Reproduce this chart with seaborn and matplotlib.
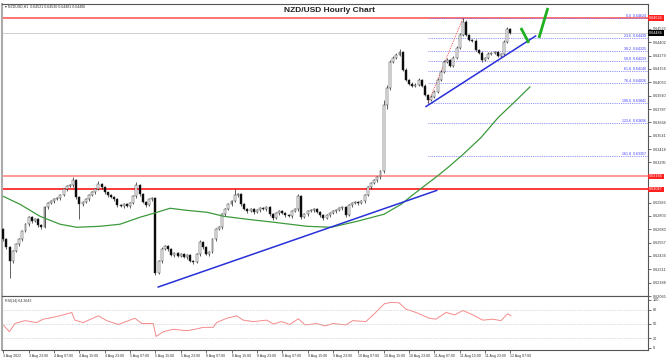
import numpy as np
import matplotlib
matplotlib.use("Agg")
import matplotlib.pyplot as plt
import seaborn as sns

# ---- data (hourly bars, bar 0 = 3 Aug 15:00) ----
first_open = 0.62680
closes = [
    0.62588, 0.62515, 0.62386, 0.62478, 0.62542, 0.62588, 0.62661, 0.62726, 0.62790, 0.62753,
    0.62772, 0.62717, 0.62698, 0.62882, 0.62918, 0.62937, 0.62955, 0.62964, 0.62992, 0.63047,
    0.63075, 0.63084, 0.63130, 0.62974, 0.62909, 0.62928, 0.62955, 0.62992, 0.63019, 0.63047,
    0.63093, 0.63065, 0.63019, 0.62992, 0.62974, 0.62955, 0.62900, 0.62891, 0.62909, 0.62891,
    0.62918, 0.62983, 0.63084, 0.63001, 0.62928, 0.62900, 0.62955, 0.62964, 0.62276, 0.62386,
    0.62496, 0.62524, 0.62496, 0.62441, 0.62460, 0.62432, 0.62450, 0.62423, 0.62441, 0.62386,
    0.62377, 0.62450, 0.62560, 0.62515, 0.62450, 0.62469, 0.62588, 0.62680, 0.62698, 0.62818,
    0.62863, 0.62909, 0.62937, 0.62992, 0.63001, 0.62909, 0.62863, 0.62845, 0.62863, 0.62836,
    0.62854, 0.62873, 0.62863, 0.62882, 0.62818, 0.62781, 0.62827, 0.62845, 0.62827, 0.62808,
    0.62799, 0.62845, 0.62863, 0.62983, 0.62790, 0.62818, 0.62845, 0.62854, 0.62863, 0.62836,
    0.62808, 0.62781, 0.62808, 0.62827, 0.62845, 0.62854, 0.62873, 0.62882, 0.62808, 0.62900,
    0.62918, 0.62928, 0.62918, 0.62937, 0.62992, 0.63065, 0.63102, 0.63130, 0.63157, 0.63212,
    0.63827, 0.63983, 0.64222, 0.64259, 0.64286, 0.64314, 0.64149, 0.64057, 0.64020, 0.64002,
    0.64011, 0.64057, 0.64002, 0.63919, 0.63873, 0.63901, 0.63947, 0.64057, 0.64130, 0.64222,
    0.64240, 0.64185, 0.64259, 0.64351, 0.64470, 0.64589, 0.64470, 0.64424, 0.64415, 0.64332,
    0.64305, 0.64240, 0.64259, 0.64295, 0.64305, 0.64314, 0.64277, 0.64295, 0.64406, 0.64521,
    0.64486]

# wick lengths in points (0.00001)
up_wick = [
    12, 10, 15, 12, 10, 14, 10, 12, 15, 10,
    12, 10, 8, 14, 10, 12, 10, 15, 10, 12,
    10, 14, 27, 10, 12, 10, 12, 10, 14, 10,
    27, 10, 12, 8, 10, 12, 10, 14, 10, 12,
    10, 12, 27, 10, 12, 10, 14, 10, 10, 15,
    18, 12, 10, 14, 10, 12, 10, 14, 10, 12,
    10, 14, 18, 10, 12, 10, 14, 12, 10, 15,
    12, 14, 10, 55, 12, 10, 12, 10, 14, 10,
    12, 10, 14, 10, 12, 10, 12, 10, 14, 10,
    12, 10, 14, 18, 10, 12, 10, 14, 10, 12,
    10, 12, 10, 14, 10, 12, 10, 14, 10, 12,
    10, 14, 10, 12, 15, 12, 14, 10, 15, 18,
    46, 30, 20, 18, 15, 27, 12, 14, 10, 12,
    14, 12, 10, 12, 10, 14, 12, 15, 14, 18,
    15, 12, 14, 18, 15, 35, 14, 10, 12, 14,
    10, 12, 10, 14, 10, 12, 10, 12, 15, 22,
    9]
lo_wick = [
    12, 14, 156, 15, 10, 12, 14, 10, 12, 15,
    10, 12, 14, 10, 12, 10, 14, 10, 12, 10,
    14, 10, 12, 15, 137, 12, 10, 14, 10, 12,
    10, 14, 10, 12, 10, 14, 12, 10, 14, 10,
    12, 10, 14, 12, 10, 14, 10, 12, 18, 12,
    14, 10, 12, 10, 14, 10, 12, 10, 14, 12,
    15, 10, 12, 14, 10, 12, 10, 14, 10, 12,
    14, 10, 12, 10, 14, 12, 10, 14, 10, 12,
    10, 14, 10, 12, 14, 12, 10, 12, 10, 14,
    10, 12, 10, 12, 15, 10, 14, 10, 12, 10,
    14, 12, 10, 14, 10, 12, 10, 14, 12, 10,
    14, 10, 12, 10, 14, 10, 12, 10, 12, 10,
    15, 40, 25, 15, 12, 14, 12, 15, 14, 12,
    10, 14, 12, 15, 32, 12, 14, 10, 12, 14,
    12, 15, 10, 12, 14, 10, 12, 14, 10, 12,
    10, 18, 12, 10, 14, 10, 12, 10, 12, 10,
    5]

# moving average (green), shifted forward past the last bar
ma_bar = [0, 5.3, 11.6, 17.9, 23.2, 30.5, 36.8, 43.1, 48.5, 52.6, 57.9, 64.3, 69.6, 76.9,
          85.4, 95.8, 103.4, 111.6, 120.1, 125.5, 128.6, 132.7, 136.8, 140.3, 145, 150.7,
          156.1, 161.4, 166.2]
ma_val = [0.62983, 0.62909, 0.62799, 0.62726, 0.62698, 0.62707, 0.62726, 0.62790, 0.62836,
          0.62873, 0.62854, 0.62836, 0.62799, 0.62772, 0.62744, 0.62707, 0.62698, 0.62753,
          0.62818, 0.62909, 0.62983, 0.63075, 0.63166, 0.63249, 0.63368, 0.63524, 0.63708,
          0.63855, 0.63992]

# RSI(14)
rsi_bar = [0, 1.9, 3.7, 6.8, 10.5, 12.6, 15.8, 18.9, 21.6, 22.6, 25.2, 30, 32.6, 36.3, 41.5,
           43.7, 47.3, 48.2, 50.5, 53.6, 57.9, 60.5, 63.1, 66.2, 67.3, 70.5, 73.6, 75.7, 78.9,
           83.1, 85.2, 87.8, 90.4, 93.1, 95.2, 98.9, 101.5, 104.1, 108.1, 110.2, 114.4, 117,
           120.2, 122.3, 124.9, 127, 130.2, 134.4, 136.5, 139.7, 142.4, 145, 148.1, 151.3,
           154.4, 157, 159.1, 160.2]
rsi_val = [48, 34, 51, 57, 53, 60, 64, 69, 74, 58, 53, 67, 57, 49, 62, 51, 51, 24, 34, 39, 36,
           39, 43, 43, 53, 62, 67, 58, 55, 58, 50, 55, 49, 61, 48, 51, 46, 51, 48, 57, 55, 71,
           92, 95, 94, 81, 74, 62, 60, 74, 69, 78, 69, 58, 60, 57, 71, 67]

# levels and drawings
res_levels = [0.63166, 0.63047]
top_level = 0.64624
bid_price = 0.64486
fib_pct = ['0.0', '23.6', '38.2', '50.0', '61.8', '76.4', '100.0', '123.6', '161.8']
fib_price = [0.64624, 0.64439, 0.64325, 0.64233, 0.64140, 0.64026, 0.63841, 0.63656, 0.63357]
fib_from = (134, 0.63841)
fib_to = (145, 0.64624)
trend1 = ([48.8, 136.8], [0.62147, 0.63038])
trend2 = ([133.3, 168.0], [0.63809, 0.64461])
arrow_down = ([163.3, 165.8], [0.64534, 0.64396])
arrow_up = ([169.0, 171.8], [0.64442, 0.64718])

ytick_vals = [0.64525, 0.64402, 0.64279, 0.64156, 0.64033, 0.63910, 0.63787, 0.63664, 0.63541,
              0.63418, 0.63295, 0.63172, 0.63049, 0.62926, 0.62803, 0.62680, 0.62557, 0.62434,
              0.62311, 0.62188, 0.62065]
# these two sit under the red price tags and are hidden in the original
hidden_ticks = [0.63172, 0.63049]
xtick_labels = ['3 Aug 2022', '3 Aug 23:00', '4 Aug 07:00', '4 Aug 15:00', '4 Aug 23:00',
                '5 Aug 07:00', '5 Aug 15:00', '5 Aug 23:00', '8 Aug 07:00', '8 Aug 15:00',
                '8 Aug 23:00', '9 Aug 07:00', '9 Aug 15:00', '9 Aug 23:00', '10 Aug 07:00',
                '10 Aug 15:00', '10 Aug 23:00', '11 Aug 07:00', '11 Aug 15:00', '11 Aug 23:00',
                '12 Aug 07:00']

sns.set_theme(style='white')
plt.rcParams['font.family'] = ['Liberation Sans', 'DejaVu Sans']

fig = plt.figure(figsize=(6.72, 3.61), dpi=100)
ax = fig.add_axes([2/672, 65/361, 646/672, 292/361])
ax_rsi = fig.add_axes([2/672, 11/361, 646/672, 54/361])

n = len(closes)
bars = np.arange(n)
opens = np.array([first_open] + closes[:-1])
cl = np.array(closes)
highs = np.maximum(opens, cl) + np.array(up_wick) / 1e5
lows = np.minimum(opens, cl) - np.array(lo_wick) / 1e5
bull = cl >= opens

# candles
ax.vlines(bars, lows, highs, color='#222222', lw=0.5, zorder=3)
body = np.maximum(np.abs(cl - opens), 0.00003)
ax.bar(bars, body, bottom=np.minimum(opens, cl), width=0.62,
       color=np.where(bull, 'white', 'black'), edgecolor='#333333', linewidth=0.35, zorder=4)

# horizontal levels
ax.axhline(top_level, color='#ff4d4d', lw=1.1, zorder=2)
ax.axhline(res_levels[0], color='#ff9090', lw=1.3, zorder=2)
ax.axhline(res_levels[1], color='#ff2a2a', lw=1.3, zorder=2)
ax.axhline(bid_price, color='#c9c9c9', lw=0.6, zorder=1)

# fibonacci
ax.hlines(fib_price, fib_from[0], 203.4, colors='#7070ff', linestyles=(0, (1, 1.2)), lw=0.6, zorder=2)
for pct, pr in zip(fib_pct, fib_price):
    ax.text(202.8, pr, f'{pct}  {pr:.5f}', ha='right', va='bottom', fontsize=2.6, color='#3b3bff', zorder=6)
ax.plot([fib_from[0], fib_to[0]], [fib_from[1], fib_to[1]], color='#ff3030', ls=(0, (1, 1.2)), lw=0.6, zorder=2)

# moving average
sns.lineplot(x=ma_bar, y=ma_val, ax=ax, color='#3c9a3c', lw=0.9, zorder=5)

# trend lines and arrows
ax.plot(*trend1, color='#2830d8', lw=1.1, zorder=5)
ax.plot(*trend2, color='#2830d8', lw=1.1, zorder=5)
ax.plot(*arrow_down, color='#1eb01e', lw=2.0, solid_capstyle='butt', zorder=5)
ax.plot(*arrow_up, color='#1eb01e', lw=2.0, solid_capstyle='butt', zorder=5)

ax.set_xlim(-0.41, 203.4)
ax.set_ylim(0.620740, 0.647545)
ax.set_xticks([])
ax.set_xlabel('')
ax.set_ylabel('')
ax.yaxis.tick_right()
ax.set_yticks(ytick_vals)
ax.set_yticklabels(['' if v in hidden_ticks else f'{v:.5f}' for v in ytick_vals])
ax.tick_params(axis='y', labelsize=2.7, length=2, width=0.5, pad=1.2, colors='#333333', right=True)

# price tags
ytr = ax.get_yaxis_transform()
for pr, fc in [(top_level, '#ff2020'), (res_levels[0], '#ff2020'), (res_levels[1], '#ff2020'), (bid_price, 'black')]:
    ax.text(1.002, pr, f'{pr:.5f}', transform=ytr, ha='left', va='center', fontsize=2.7, color='white',
            bbox=dict(facecolor=fc, edgecolor='none', pad=0.6), zorder=7, clip_on=False)

ax.text(327/646, 1 - 6.7/292, 'NZD/USD Hourly Chart', transform=ax.transAxes, ha='center', va='center',
        fontsize=6, fontweight='bold', color='#222222')
fig.text(5/672, 1 - 7/361, '\u25be NZDUSD,H1  0.64521 0.64530 0.64481 0.64486', fontsize=2.6,
         va='center', color='#333333')

# RSI panel
sns.lineplot(x=rsi_bar, y=rsi_val, ax=ax_rsi, color='#f58a8a', lw=0.7)
for lvl in [80, 50, 20]:
    ax_rsi.axhline(lvl, color='#bbbbbb', lw=0.5, ls=(0, (1, 1.5)))
ax_rsi.set_xlim(-0.41, 203.4)
ax_rsi.set_ylim(-4.2, 108.3)
ax_rsi.yaxis.tick_right()
ax_rsi.set_yticks([100, 80, 50, 20, 0])
ax_rsi.tick_params(axis='y', labelsize=2.7, length=2, width=0.5, pad=1.2, colors='#333333', right=True)
ax_rsi.set_xticks(np.arange(0, 161, 8))
ax_rsi.set_xticklabels(xtick_labels, ha='left')
ax_rsi.tick_params(axis='x', labelsize=2.6, length=2, width=0.5, pad=0.8, colors='#333333', bottom=True)
ax_rsi.set_xlabel('')
ax_rsi.set_ylabel('')
ax_rsi.text(0.004, 0.9, 'RSI(14) 64.2643', transform=ax_rsi.transAxes, fontsize=2.6, va='center', color='#333333')

for a in (ax, ax_rsi):
    for s in a.spines.values():
        s.set_color('#555555')
        s.set_linewidth(0.8)
    a.spines['left'].set_color('#aaaaaa')
    a.spines['left'].set_linewidth(1.5)

fig.savefig('out.png', dpi=100)
